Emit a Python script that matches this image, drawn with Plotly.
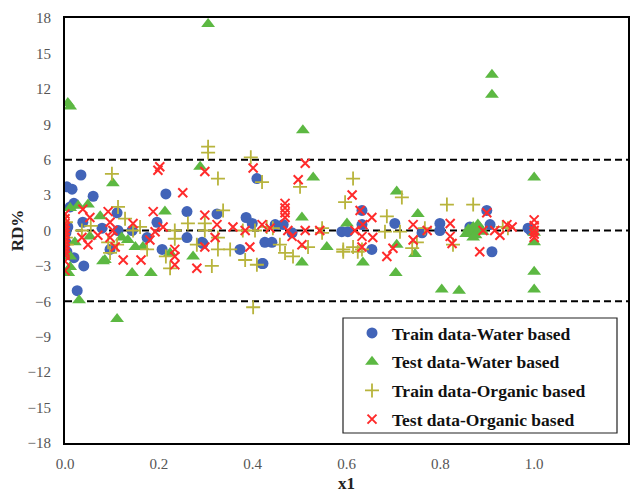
import plotly.graph_objects as go

# ---- Data ----
train_water_x = [0.004, 0.015, 0.034, 0.060, 0.019, 0.011, 0.006, 0.002, 0.038, 0.111, 0.079, 0.113,
                 0.143, 0.175, 0.196, 0.215, 0.260, 0.260, 0.292, 0.294, 0.324, 0.373, 0.386, 0.399,
                 0.409, 0.422, 0.426, 0.448, 0.465, 0.484, 0.441, 0.590, 0.603, 0.633, 0.633, 0.654,
                 0.703, 0.761, 0.799, 0.799, 0.863, 0.867, 0.899, 0.906, 0.910, 0.987, 0.993, 0.026,
                 0.040, 0.019, 0.096, 0.207, 0.420, 0.002, 0.004]
train_water_y = [3.7, 3.5, 4.7, 2.9, 2.3, 2.0, 0.3, -0.2, 0.7, 1.5, 0.2, 0.0,
                 0.0, -0.6, 0.7, 3.1, 1.6, -0.6, -1.0, -1.1, 1.4, -1.6, 1.1, 0.6,
                 4.4, -2.8, -1.0, 0.5, 0.5, -0.2, -1.0, -0.1, -0.1, 1.7, 0.5, -1.6,
                 0.6, -0.2, 0.6, 0.0, 0.3, 0.2, 1.7, 0.5, -1.8, 0.2, 0.0, -5.1,
                 -3.0, -2.3, -1.6, -1.6, -2.8, -1.0, -1.8]

test_water_x = [0.006, 0.011, 0.305, 0.102, 0.288, 0.507, 0.529, 0.505, 0.213, 0.049, 0.028, 0.011,
                0.075, 0.053, 0.021, 0.121, 0.134, 0.150, 0.166, 0.085, 0.143, 0.183, 0.011, 0.011,
                0.007, 0.030, 0.111, 0.081, 0.224, 0.273, 0.505, 0.601, 0.558, 0.635, 0.705, 0.707,
                0.752, 0.746, 0.803, 0.840, 0.910, 0.910, 1.000, 1.000, 1.000, 1.000, 0.860, 0.865,
                0.870, 0.875, 0.880, 0.885, 0.855, 0.890, 0.870, 0.880, 0.707, 1.000]
test_water_y = [10.8, 10.5, 17.5, 4.0, 5.4, 8.5, 4.5, 1.1, 1.6, 2.2, 2.1, 1.9,
                1.2, -0.5, -1.0, -0.6, -0.8, -1.4, -1.4, -2.5, -3.6, -3.6, -2.2, -3.1,
                -3.6, -5.9, -7.5, -2.6, -1.9, -2.2, -2.7, 0.6, -1.4, -2.7, -3.6, 3.3,
                1.4, -2.0, -5.0, -5.1, 13.2, 11.5, 4.5, -1.0, -3.5, -5.0, 0.1, -0.2,
                0.3, -0.4, 0.0, 0.2, -0.3, -0.1, -0.6, 0.5, -1.2, -0.2]

train_org_x = [0.305, 0.305, 0.326, 0.100, 0.396, 0.420, 0.501, 0.113, 0.128, 0.145, 0.036, 0.111,
               0.092, 0.175, 0.337, 0.262, 0.234, 0.234, 0.298, 0.326, 0.326, 0.352, 0.384, 0.313,
               0.224, 0.409, 0.215, 0.298, 0.379, 0.405, 0.430, 0.281, 0.401, 0.469, 0.486, 0.096,
               0.614, 0.597, 0.443, 0.458, 0.548, 0.548, 0.518, 0.593, 0.614, 0.633, 0.718, 0.814,
               0.686, 0.682, 0.714, 0.740, 0.750, 0.767, 0.827, 0.870, 0.933, 0.944, 0.593, 0.624,
               0.002, 0.002, 0.004, 0.055, 0.160]
train_org_y = [7.1, 6.6, 4.4, 4.8, 6.2, 4.1, 3.7, 2.0, 1.0, 0.0, 0.0, -1.2,
               -1.0, -1.6, 1.7, 0.6, 0.0, -0.7, 0.0, -0.6, -1.6, -1.6, -2.5, -3.0,
               -3.2, -2.9, -2.2, 0.6, 0.0, 0.0, 0.3, -1.2, -6.5, -1.9, -2.2, -1.9,
               4.4, 2.4, 0.2, -1.2, 0.2, -0.2, -1.4, -1.6, -1.4, -1.6, 2.8, 2.2,
               1.2, -0.1, -0.1, -1.5, -1.0, 0.2, -1.2, 2.2, 0.3, 0.2, -1.8, -1.8,
               0.7, -0.6, -1.2, 0.4, 0.3]

test_org_x = [0.0, 0.0, 0.0, 0.0, 0.0, 0.0, 0.0, 0.0, 0.0, 0.0, 0.0, 0.0, 0.0, 0.0,
              0.038, 0.053, 0.036, 0.049, 0.070, 0.092, 0.096, 0.102, 0.096, 0.107, 0.124, 0.162,
              0.188, 0.192, 0.181, 0.198, 0.202, 0.251, 0.298, 0.298, 0.324, 0.320, 0.298, 0.234,
              0.234, 0.234, 0.281, 0.358, 0.384, 0.394, 0.401, 0.420, 0.209, 0.512, 0.497, 0.469,
              0.469, 0.469, 0.469, 0.475, 0.484, 0.505, 0.512, 0.543, 0.437, 0.612, 0.629, 0.618,
              0.633, 0.633, 0.635, 0.654, 0.656, 0.699, 0.686, 0.742, 0.742, 0.772, 0.821, 0.821,
              0.825, 0.884, 0.899, 0.891, 0.916, 0.927, 0.942, 0.953, 1.0, 1.0, 1.0, 1.0, 1.0, 0.145]
test_org_y = [1.4, 1.0, 0.6, 0.3, 0.0, -0.3, -0.6, -0.9, -1.2, -1.5, -1.8, -2.1, -2.6, -3.4,
              1.8, 1.1, -0.6, -1.2, -0.4, 1.6, 0.7, 0.0, -0.6, -1.4, -2.5, -2.5,
              1.6, -0.1, -0.8, 5.1, 5.4, 3.2, 5.0, 1.3, 0.5, -0.6, -1.4, -1.6,
              -2.2, -2.9, -3.2, 0.3, 0.0, -1.4, 5.3, 0.5, 0.3, 5.7, 4.3, 2.3,
              1.9, 1.5, 1.1, 0.0, -0.5, -1.2, 0.0, 0.0, 0.2, 3.0, 1.7, 0.0,
              -0.5, -1.4, 0.5, 1.1, -0.6, -1.5, -2.2, 0.5, -0.8, 0.0, 0.6, -0.5,
              -1.1, -1.8, 1.5, 0.0, 0.0, -0.4, 0.5, 0.3, 0.9, 0.4, 0.0, -0.3, -0.6, 0.6]

series_names = ["Train data-Water based", "Test data-Water based",
                "Train data-Organic based", "Test data-Organic based"]
ref_lines = [6, 0, -6]
x_ticks = [0.0, 0.2, 0.4, 0.6, 0.8, 1.0, 1.2]
y_ticks = [18, 15, 12, 9, 6, 3, 0, -3, -6, -9, -12, -15, -18]

SERIF = "Liberation Serif"

fig = go.Figure()
fig.add_trace(go.Scatter(x=train_water_x, y=train_water_y, mode="markers", name=series_names[0],
                         legendgroup="a",
                         marker=dict(symbol="circle", size=11, color="#4264b8",
                                     line=dict(width=0))))
fig.add_trace(go.Scatter(x=test_water_x, y=test_water_y, mode="markers", name=series_names[1],
                         legendgroup="b",
                         marker=dict(symbol="triangle-up", size=12, color="#5cb842",
                                     line=dict(width=0))))
fig.add_trace(go.Scatter(x=train_org_x, y=train_org_y, mode="markers", name=series_names[2],
                         legendgroup="c",
                         marker=dict(symbol="cross-thin", size=10, color="#b8b43c",
                                     line=dict(width=1.8, color="#b8b43c"))))
fig.add_trace(go.Scatter(x=test_org_x, y=test_org_y, mode="markers", name=series_names[3],
                         legendgroup="d",
                         marker=dict(symbol="x-thin", size=9, color="#ff2b2b",
                                     line=dict(width=2, color="#ff2b2b"))))

shapes = []
for v in ref_lines:
    shapes.append(dict(type="line", xref="paper", x0=0, x1=1, yref="y", y0=v, y1=v,
                       line=dict(color="black", width=2, dash="7px,4px"), layer="below"))
# legend frame
shapes.append(dict(type="rect", xref="paper", yref="paper",
                   x0=(343 - 65) / 563, x1=(617 - 65) / 563,
                   y0=(443 - 433) / 425, y1=(443 - 318) / 425,
                   line=dict(color="#222", width=1.2), fillcolor="white", layer="below"))

fig.update_layout(
    width=637, height=493,
    margin=dict(l=65, r=9, t=18, b=50),
    paper_bgcolor="white", plot_bgcolor="white",
    shapes=shapes,
    font=dict(family=SERIF, color="#444"),
    legend=dict(x=(352 - 65) / 563, y=(443 - 315) / 425, xanchor="left", yanchor="top",
                bgcolor="rgba(0,0,0,0)", borderwidth=0,
                traceorder="grouped", tracegroupgap=3,
                font=dict(family=SERIF, size=17.5, color="#111", weight="bold")),
    xaxis=dict(range=[0, 1.2], tickvals=x_ticks, tickformat=".1f", automargin=False,
               showline=True, linecolor="black", linewidth=2, mirror=True,
               showgrid=False, zeroline=False,
               ticks="outside", ticklen=6, tickcolor="rgba(0,0,0,0)",
               tickfont=dict(family=SERIF, size=15, color="#555"),
               title=dict(text="x1", font=dict(family=SERIF, size=17, color="#222", weight="bold"),
                          standoff=13)),
    yaxis=dict(range=[-18, 18], tickvals=y_ticks, automargin=False,
               showline=True, linecolor="black", linewidth=2, mirror=True,
               showgrid=False, zeroline=False,
               ticks="outside", ticklen=9, tickcolor="rgba(0,0,0,0)",
               tickfont=dict(family=SERIF, size=15, color="#555"),
               title=dict(text="RD%", font=dict(family=SERIF, size=17, color="#222", weight="bold"),
                          standoff=0)),
)

fig.write_html("out.html")
